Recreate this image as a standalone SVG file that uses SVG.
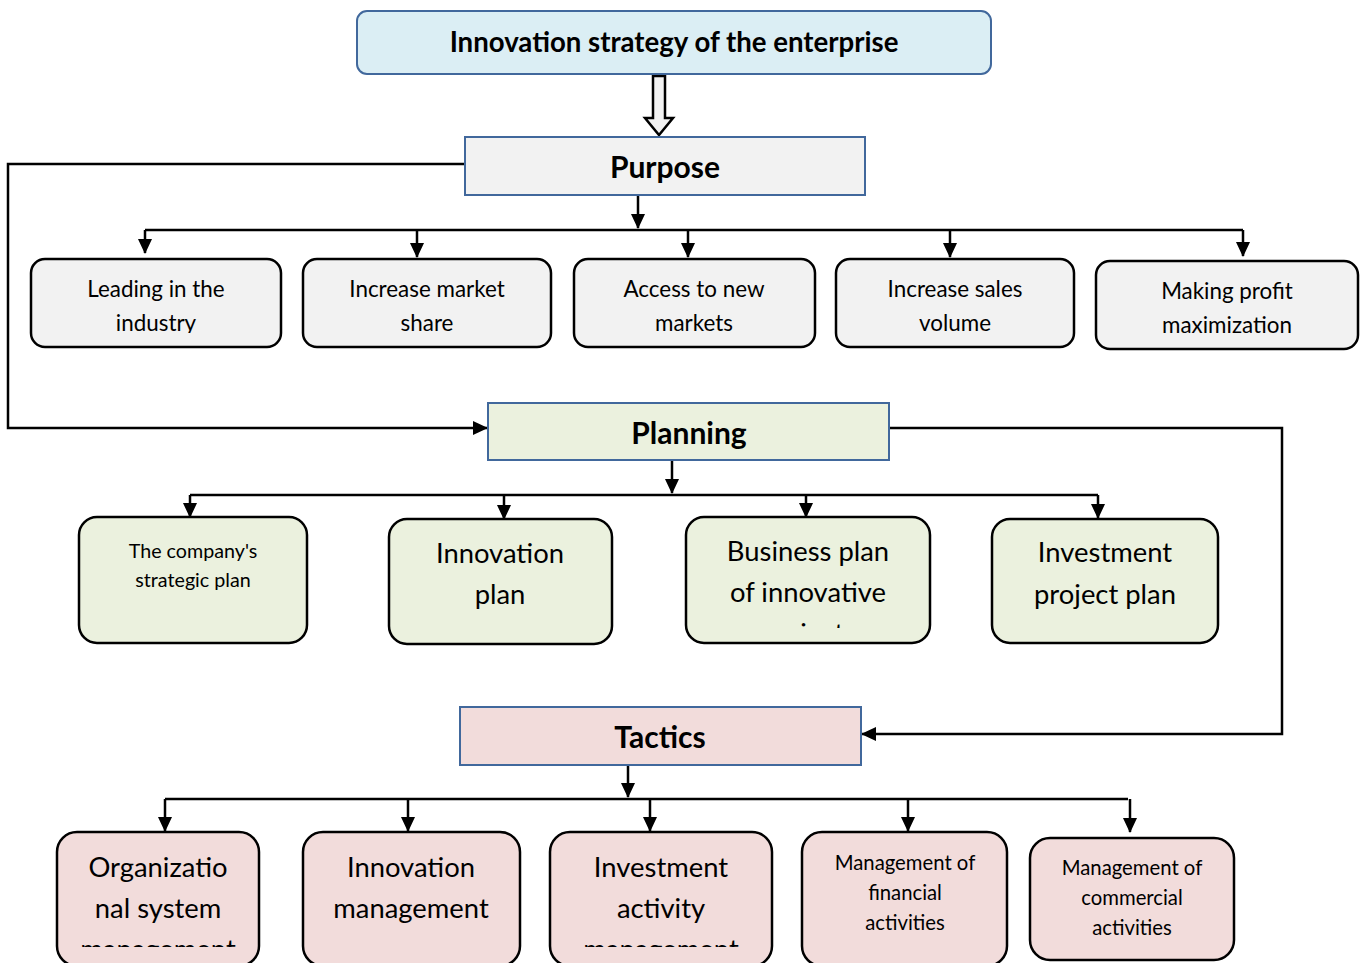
<svg xmlns="http://www.w3.org/2000/svg" width="1368" height="963" viewBox="0 0 1368 963">
<style>
text{font-family:Lato,"Open Sans","Liberation Sans",sans-serif;fill:#000;text-anchor:middle}
.hdr{font-weight:bold;font-size:30px}
.top{font-weight:bold;font-size:27.6px}
.hbox{stroke:#41689C;stroke-width:2}
.card{stroke:#000;stroke-width:2.5}
.t20{font-size:22.4px}
.t26{font-size:27.4px}
.t17{font-size:19.7px}
.t18{font-size:20.3px}
.con{fill:none;stroke:#000;stroke-width:2.5}
</style>
<defs>
<marker id="ah" markerUnits="userSpaceOnUse" markerWidth="16" markerHeight="16" viewBox="0 0 16 16" refX="14" refY="8" orient="auto">
<path d="M0,1 L15,8 L0,15 Z" fill="#000"/>
</marker>
<clipPath id="c1"><rect x="31" y="259" width="250" height="74"/></clipPath>
<clipPath id="c2"><rect x="686" y="517" width="244" height="111"/></clipPath>
<clipPath id="c3"><rect x="57" y="832" width="202" height="115"/></clipPath>
<clipPath id="c4"><rect x="550" y="832" width="222" height="115"/></clipPath>
</defs>

<g id="connectors">
<path d="M653,76 V118 H645 L659,135 L673,118 H665 V76 Z" fill="#f2f2f2" stroke="#000" stroke-width="2.5" stroke-linejoin="miter"/>
<path class="con" d="M465,164 H8 V428 H487" marker-end="url(#ah)"/>
<path class="con" d="M638,195 V228" marker-end="url(#ah)"/>
<path class="con" d="M145,230 H1243"/>
<path class="con" d="M145,230 V253" marker-end="url(#ah)"/>
<path class="con" d="M417,230 V257" marker-end="url(#ah)"/>
<path class="con" d="M688,230 V257" marker-end="url(#ah)"/>
<path class="con" d="M950,230 V257" marker-end="url(#ah)"/>
<path class="con" d="M1243,230 V256" marker-end="url(#ah)"/>
<path class="con" d="M889,428 H1282 V734 H862" marker-end="url(#ah)"/>
<path class="con" d="M672,460 V493" marker-end="url(#ah)"/>
<path class="con" d="M190,495 H1098"/>
<path class="con" d="M190,495 V517" marker-end="url(#ah)"/>
<path class="con" d="M504,495 V519" marker-end="url(#ah)"/>
<path class="con" d="M806,495 V517" marker-end="url(#ah)"/>
<path class="con" d="M1098,495 V518" marker-end="url(#ah)"/>
<path class="con" d="M628,765 V797" marker-end="url(#ah)"/>
<path class="con" d="M165,799 H1128"/>
<path class="con" d="M165,799 V831" marker-end="url(#ah)"/>
<path class="con" d="M408,799 V831" marker-end="url(#ah)"/>
<path class="con" d="M650,799 V831" marker-end="url(#ah)"/>
<path class="con" d="M908,799 V831" marker-end="url(#ah)"/>
<path class="con" d="M1130,799 V832" marker-end="url(#ah)"/>
</g>

<g id="strategy">
<rect class="hbox" x="357" y="11" width="634" height="63" rx="10" fill="#DBEEF4"/>
<text class="top" x="674" y="52">Innovation strategy of the enterprise</text>
</g>

<g id="purpose">
<rect class="hbox" x="465" y="137" width="400" height="58" fill="#F2F2F2"/>
<text class="hdr" x="665" y="178">Purpose</text>
</g>

<g id="leading">
<rect class="card" x="31" y="259" width="250" height="88" rx="14" fill="#F2F2F2"/>
<text class="t20" x="156" y="297" clip-path="url(#c1)"><tspan x="156">Leading in the</tspan><tspan x="156" y="331">industry</tspan></text>
</g>
<g id="market-share">
<rect class="card" x="303" y="259" width="248" height="88" rx="14" fill="#F2F2F2"/>
<text class="t20" x="427" y="297"><tspan x="427">Increase market</tspan><tspan x="427" y="331">share</tspan></text>
</g>
<g id="new-markets">
<rect class="card" x="574" y="259" width="241" height="88" rx="14" fill="#F2F2F2"/>
<text class="t20" x="694" y="297"><tspan x="694">Access to new</tspan><tspan x="694" y="331">markets</tspan></text>
</g>
<g id="sales-volume">
<rect class="card" x="836" y="259" width="238" height="88" rx="14" fill="#F2F2F2"/>
<text class="t20" x="955" y="297"><tspan x="955">Increase sales</tspan><tspan x="955" y="331">volume</tspan></text>
</g>
<g id="profit">
<rect class="card" x="1096" y="261" width="262" height="88" rx="14" fill="#F2F2F2"/>
<text class="t20" x="1227" y="299"><tspan x="1227">Making profit</tspan><tspan x="1227" y="333">maximization</tspan></text>
</g>

<g id="planning">
<rect class="hbox" x="488" y="403" width="401" height="57" fill="#EBF1DE"/>
<text class="hdr" x="689" y="444">Planning</text>
</g>

<g id="strategic-plan">
<rect class="card" x="79" y="517" width="228" height="126" rx="18" fill="#EBF1DE"/>
<text class="t17" x="193" y="558"><tspan x="193">The company's</tspan><tspan x="193" y="587">strategic plan</tspan></text>
</g>
<g id="innovation-plan">
<rect class="card" x="389" y="519" width="223" height="125" rx="18" fill="#EBF1DE"/>
<text class="t26" x="500" y="563"><tspan x="500">Innovation</tspan><tspan x="500" y="604">plan</tspan></text>
</g>
<g id="business-plan">
<rect class="card" x="686" y="517" width="244" height="126" rx="18" fill="#EBF1DE"/>
<text class="t26" x="808" y="561" clip-path="url(#c2)"><tspan x="808">Business plan</tspan><tspan x="808" y="602">of innovative</tspan><tspan x="808" y="643">projects</tspan></text>
</g>
<g id="investment-plan">
<rect class="card" x="992" y="519" width="226" height="124" rx="18" fill="#EBF1DE"/>
<text class="t26" x="1105" y="562"><tspan x="1105">Investment</tspan><tspan x="1105" y="604">project plan</tspan></text>
</g>

<g id="tactics">
<rect class="hbox" x="460" y="707" width="401" height="58" fill="#F2DCDB"/>
<text class="hdr" x="660" y="748">Tactics</text>
</g>

<g id="org-system">
<rect class="card" x="57" y="832" width="202" height="134" rx="20" fill="#F2DCDB"/>
<text class="t26" x="158" y="877" clip-path="url(#c3)"><tspan x="158">Organizatio</tspan><tspan x="158" y="918">nal system</tspan><tspan x="158" y="959">management</tspan></text>
</g>
<g id="innovation-mgmt">
<rect class="card" x="303" y="832" width="217" height="134" rx="20" fill="#F2DCDB"/>
<text class="t26" x="411" y="877"><tspan x="411">Innovation</tspan><tspan x="411" y="918">management</tspan></text>
</g>
<g id="investment-mgmt">
<rect class="card" x="550" y="832" width="222" height="134" rx="20" fill="#F2DCDB"/>
<text class="t26" x="661" y="877" clip-path="url(#c4)"><tspan x="661">Investment</tspan><tspan x="661" y="918">activity</tspan><tspan x="661" y="959">management</tspan></text>
</g>
<g id="financial">
<rect class="card" x="802" y="832" width="205" height="134" rx="20" fill="#F2DCDB"/>
<text class="t18" x="905" y="870"><tspan x="905">Management of</tspan><tspan x="905" y="900">financial</tspan><tspan x="905" y="930">activities</tspan></text>
</g>
<g id="commercial">
<rect class="card" x="1030" y="838" width="204" height="122" rx="20" fill="#F2DCDB"/>
<text class="t18" x="1132" y="875"><tspan x="1132">Management of</tspan><tspan x="1132" y="905">commercial</tspan><tspan x="1132" y="935">activities</tspan></text>
</g>
</svg>
